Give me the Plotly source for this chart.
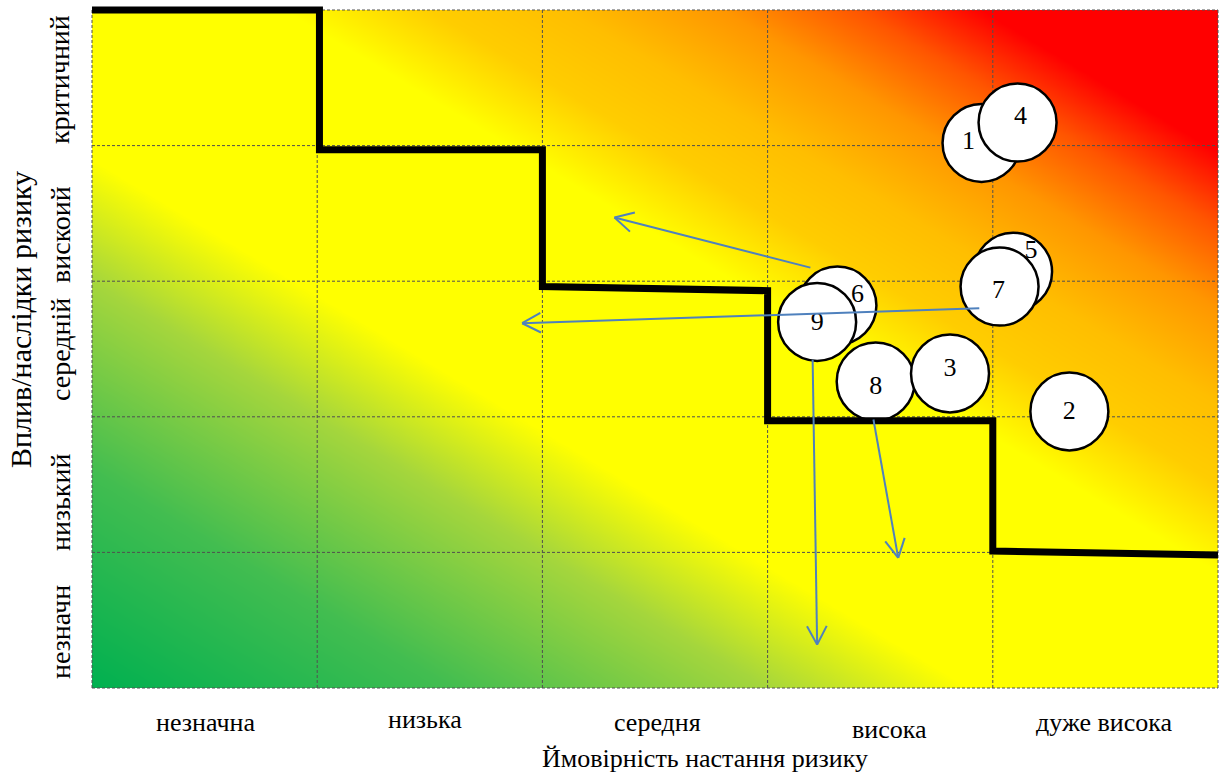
import numpy as np
import plotly.graph_objects as go

# ---- matrix categories -------------------------------------------------
probability_levels = ["незначна", "низька", "середня", "висока", "дуже висока"]
impact_levels = ["незначн", "низький", "середній", "вискоий", "критичний"]
x_title = "Ймовірність настання ризику"
y_title = "Вплив/наслідки ризику"

# ---- risks (probability, impact in cell units 0..5) --------------------
risk_ids = ["1", "4", "5", "7", "6", "9", "8", "3", "2"]
risk_prob = [3.95, 4.11, 4.09, 4.03, 3.31, 3.22, 3.48, 3.81, 4.34]
risk_impact = [4.02, 4.17, 3.07, 2.96, 2.82, 2.70, 2.26, 2.32, 2.04]

# ---- acceptable-risk boundary (step line) ------------------------------
boundary_x = [0.0, 1.01, 1.01, 2.0, 2.0, 3.0, 3.0, 4.0, 4.0, 5.0]
boundary_y = [5.0, 5.0, 3.97, 3.97, 2.96, 2.93, 1.97, 1.97, 1.01, 0.98]

# ---- mitigation arrows --------------------------------------------------
arrow_from_x = [3.19, 3.94, 3.20, 3.47]
arrow_from_y = [3.10, 2.80, 2.42, 1.98]
arrow_to_x = [2.32, 1.91, 3.22, 3.58]
arrow_to_y = [3.47, 2.69, 0.32, 0.96]

# ---- geometry of the page ----------------------------------------------
W, H = 1222, 776
ML, MR, MT, MB = 90, 2, 2, 86
SX, SY = 225.2, 135.6             # pixels per cell
PAD_X, PAD_TOP, PAD_BOT = 2, 8, 2

def px_to_paper(px, py):
    return (px - ML) / (W - ML - MR), (H - MB - py) / (H - MT - MB)

# label nudges inside the circles (pixels, +x right, +y down)
label_dx = [-13, 3, 18, -1, 20, 0, 0, 0, 0]
label_dy = [0, -5, -20, 5, -10, 2, 6, -4, 1]

fig = go.Figure()

# background gradient: green (low) -> yellow -> orange -> red (high)
edges = np.linspace(0, 5, 201)
centers = (edges[:-1] + edges[1:]) / 2
score = (centers[None, :] + centers[:, None]) / 10.0
colorscale = [
    [0.00, "rgb(0,176,80)"],
    [0.16, "rgb(66,189,80)"],
    [0.30, "rgb(165,214,60)"],
    [0.39, "rgb(255,255,0)"],
    [0.585, "rgb(255,255,0)"],
    [0.65, "rgb(255,205,0)"],
    [0.71, "rgb(255,190,0)"],
    [0.78, "rgb(255,150,0)"],
    [0.84, "rgb(255,85,0)"],
    [0.895, "rgb(255,0,0)"],
    [1.00, "rgb(255,0,0)"],
]
fig.add_trace(go.Heatmap(x=edges, y=edges, z=score, zmin=0, zmax=1,
                         colorscale=colorscale, zsmooth="best",
                         showscale=False, hoverinfo="skip"))

# dashed cell grid
gx, gy = [], []
for k in range(6):
    gx += [k, k, None, 0, 5, None]
    gy += [0, 5, None, k, k, None]
fig.add_trace(go.Scatter(x=gx, y=gy, mode="lines", hoverinfo="skip",
                         line=dict(color="rgb(80,80,80)", width=1, dash="3px,2px")))

# risk circles with their numbers
for i, rid in enumerate(risk_ids):
    fig.add_trace(go.Scatter(
        x=[risk_prob[i]], y=[risk_impact[i]], mode="markers", hoverinfo="skip",
        marker=dict(size=78, color="white", line=dict(color="black", width=2.5))))
    fig.add_trace(go.Scatter(
        x=[risk_prob[i] + label_dx[i] / SX], y=[risk_impact[i] - label_dy[i] / SY],
        mode="text", text=[rid], hoverinfo="skip",
        textfont=dict(family="Liberation Serif", size=26, color="black")))

# boundary line
fig.add_trace(go.Scatter(x=boundary_x, y=boundary_y, mode="lines", hoverinfo="skip",
                         line=dict(color="black", width=7)))

# arrows with open heads
blue = "rgb(79,129,189)"
head_len, head_ang = 21, np.radians(28)
for x0, y0, x1, y1 in zip(arrow_from_x, arrow_from_y, arrow_to_x, arrow_to_y):
    dxp, dyp = (x0 - x1) * SX, (y0 - y1) * SY
    ang = np.arctan2(dyp, dxp)
    hx, hy = [], []
    for s in (-1, 1):
        a = ang + s * head_ang
        hx += [x1 + head_len * np.cos(a) / SX, x1, None]
        hy += [y1 + head_len * np.sin(a) / SY, y1, None]
    fig.add_trace(go.Scatter(x=[x0, x1, None] + hx, y=[y0, y1, None] + hy,
                             mode="lines", hoverinfo="skip",
                             line=dict(color=blue, width=2)))

# category and axis labels
ann = []
font_x = dict(family="Liberation Serif", size=26, color="black")
font_y = dict(family="Liberation Serif", size=28, color="black")
font_yt = dict(family="Liberation Serif", size=30, color="black")
x_label_pos = [(205, 722), (425, 719), (657, 722), (889, 729), (1104, 722)]
for text, (px, py) in zip(probability_levels, x_label_pos):
    xp, yp = px_to_paper(px, py)
    ann.append(dict(x=xp, y=yp, xref="paper", yref="paper", text=text,
                    showarrow=False, font=font_x, xanchor="center", yanchor="middle"))
xp, yp = px_to_paper(705, 758)
ann.append(dict(x=xp, y=yp, xref="paper", yref="paper", text=x_title,
                showarrow=False, font=font_x, xanchor="center", yanchor="middle"))

y_label_pos = [(60, 632), (60, 503), (60, 350), (60, 235), (60, 80)]
for text, (px, py) in zip(impact_levels, y_label_pos):
    xp, yp = px_to_paper(px, py)
    ann.append(dict(x=xp, y=yp, xref="paper", yref="paper", text=text, textangle=-90,
                    showarrow=False, font=font_y, xanchor="center", yanchor="middle"))
xp, yp = px_to_paper(20, 320)
ann.append(dict(x=xp, y=yp, xref="paper", yref="paper", text=y_title, textangle=-90,
                showarrow=False, font=font_yt, xanchor="center", yanchor="middle"))

fig.update_layout(
    width=W, height=H,
    margin=dict(l=ML, r=MR, t=MT, b=MB),
    paper_bgcolor="white", plot_bgcolor="white",
    showlegend=False, annotations=ann,
    xaxis=dict(range=[-PAD_X / SX, 5 + PAD_X / SX], visible=False, fixedrange=True),
    yaxis=dict(range=[-PAD_BOT / SY, 5 + PAD_TOP / SY], visible=False, fixedrange=True),
)

fig.write_html("out.html")
